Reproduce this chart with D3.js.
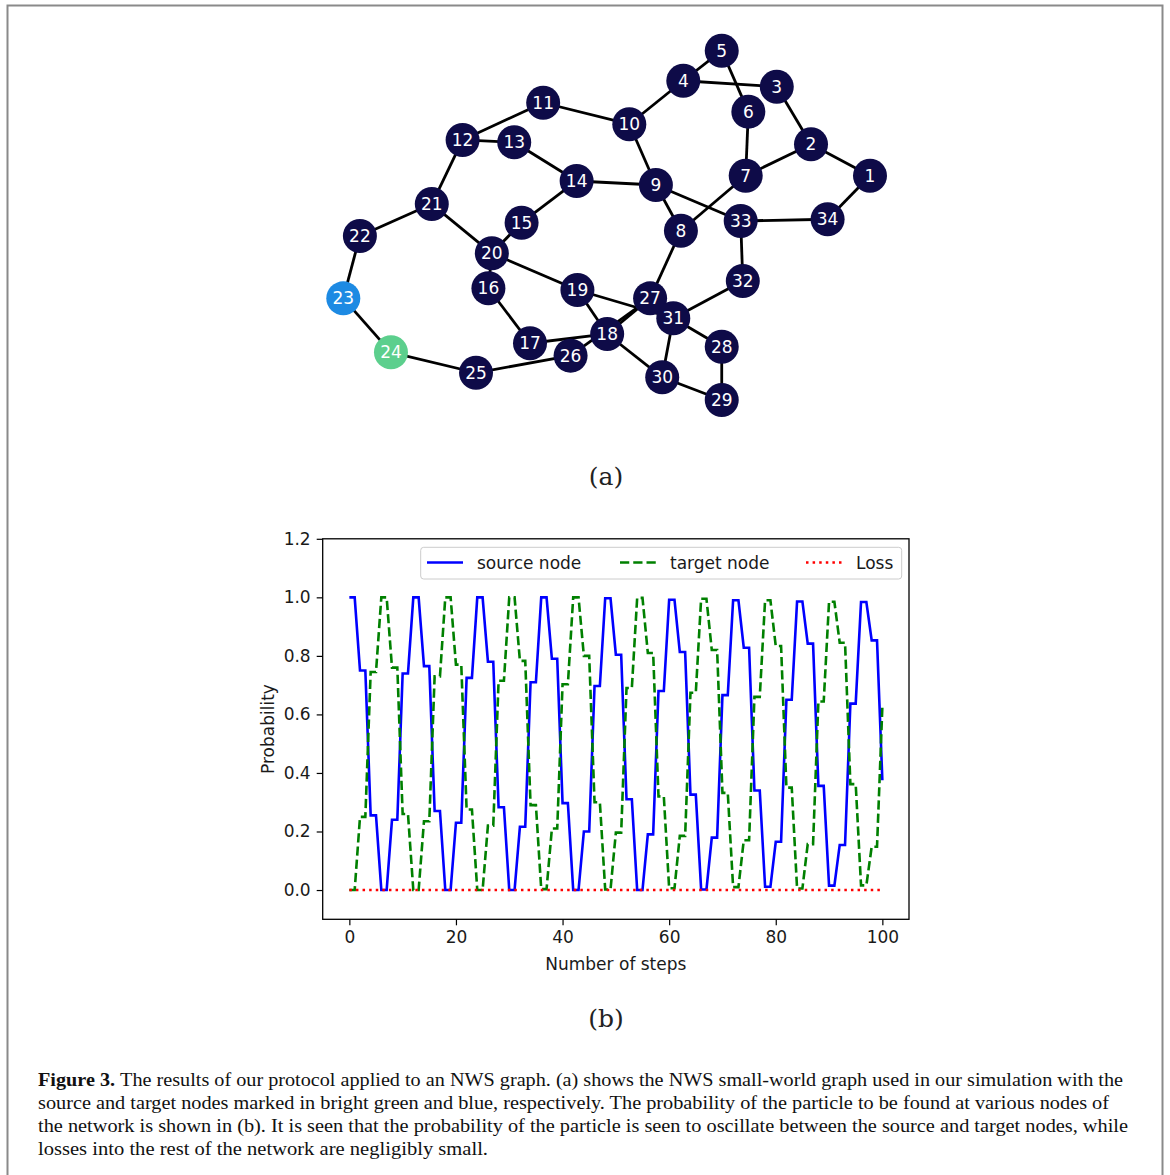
<!DOCTYPE html>
<html>
<head>
<script src="https://d3js.org/d3.v7.min.js"></script>
<style>
  body { margin: 0; background: #fff; }
  svg text { font-family: "DejaVu Sans", sans-serif; }
  .caption { font-family: "Liberation Serif", serif; font-size: 19px; fill: #111; }
  .panel-label { font-family: "DejaVu Serif", serif; font-size: 25px; fill: #222; }
</style>
</head>
<body>
<div id="figure"></div>
<script>
// ---- (a) network: node ids, spring-layout coordinates, edges ----
const nodeIds = d3.range(1, 35);
const nodeLayoutX = [1.0, 0.776, 0.646, 0.291, 0.437, 0.538, 0.528, 0.282, 0.187, 0.086,
  -0.241, -0.547, -0.351, -0.114, -0.323, -0.449, -0.291, 0.002, -0.111, -0.436,
  -0.664, -0.937, -1.0, -0.819, -0.496, -0.137, 0.165, 0.437, 0.437, 0.211,
  0.253, 0.517, 0.509, 0.839];
const nodeLayoutY = [0.284, 0.464, 0.794, 0.828, 1.0, 0.651, 0.284, -0.031, 0.231, 0.579,
  0.702, 0.489, 0.476, 0.254, 0.015, -0.360, -0.675, -0.622, -0.370, -0.160,
  0.122, -0.061, -0.418, -0.727, -0.844, -0.746, -0.418, -0.695, -1.0, -0.870,
  -0.532, -0.319, 0.025, 0.035];
const edgeList = [[1,2],[1,34],[2,3],[2,7],[3,4],[4,5],[4,10],[5,6],[6,7],[7,8],
  [8,9],[9,10],[9,14],[9,33],[10,11],[11,12],[12,13],[12,21],[13,14],[14,15],
  [15,20],[16,20],[16,17],[17,18],[18,19],[18,27],[26,27],[18,30],[19,31],[20,21],
  [20,19],[21,22],[22,23],[23,24],[24,25],[25,26],[8,27],[27,31],[31,32],[31,28],
  [31,30],[28,29],[29,30],[32,33],[33,34]];
const sourceNode = 24;
const targetNode = 23;

// ---- (b) probabilities vs number of steps ----
const steps = d3.range(0, 101);
const sourceProb = [
  1.0, 1.0, 0.75, 0.75, 0.255, 0.255, 0, 0, 0.24, 0.24, 0.74, 0.74,
  1.0, 1.0, 0.765, 0.765, 0.27, 0.27, 0, 0, 0.23, 0.23, 0.725, 0.725,
  1.0, 1.0, 0.78, 0.78, 0.283, 0.283, 0, 0, 0.216, 0.216, 0.71, 0.71,
  1.0, 1.0, 0.79, 0.79, 0.297, 0.297, 0, 0, 0.2, 0.2, 0.697, 0.697,
  0.997, 0.997, 0.804, 0.804, 0.31, 0.31, 0, 0, 0.19, 0.19, 0.68, 0.68,
  0.992, 0.992, 0.813, 0.813, 0.326, 0.326, 0.002, 0.002, 0.179, 0.179, 0.666, 0.666,
  0.99, 0.99, 0.828, 0.828, 0.34, 0.34, 0.011, 0.011, 0.165, 0.165, 0.65, 0.65,
  0.986, 0.986, 0.842, 0.842, 0.356, 0.356, 0.015, 0.015, 0.154, 0.154, 0.637, 0.637,
  0.984, 0.984, 0.853, 0.853, 0.375];
const targetProb = [
  0, 0, 0.25, 0.25, 0.745, 0.745, 1.0, 1.0, 0.76, 0.76, 0.26, 0.26,
  0, 0, 0.235, 0.235, 0.73, 0.73, 1.0, 1.0, 0.77, 0.77, 0.275, 0.275,
  0, 0, 0.22, 0.22, 0.715, 0.715, 1.0, 1.0, 0.783, 0.783, 0.29, 0.29,
  0.003, 0.003, 0.21, 0.21, 0.703, 0.703, 1.0, 1.0, 0.8, 0.8, 0.3, 0.3,
  0.002, 0.002, 0.196, 0.196, 0.69, 0.69, 0.998, 0.998, 0.81, 0.81, 0.32, 0.32,
  0.006, 0.006, 0.185, 0.185, 0.674, 0.674, 0.995, 0.995, 0.82, 0.82, 0.332, 0.332,
  0.01, 0.01, 0.17, 0.17, 0.66, 0.66, 0.99, 0.99, 0.834, 0.834, 0.35, 0.35,
  0.005, 0.005, 0.157, 0.157, 0.644, 0.644, 0.985, 0.985, 0.845, 0.845, 0.362, 0.362,
  0.016, 0.016, 0.148, 0.148, 0.625];
const lossProb = [
  0,0,0,0,0,0,0,0,0,0,0,0,0,0,0,0,0,0,0,0,0,0,0,0,0,0,0,0,0,0,0,0,0,0,
  0,0,0,0,0,0,0,0,0,0,0,0,0,0,0,0,0,0,0,0,0,0,0,0,0,0,0,0,0,0,0,0,0,0,
  0,0,0,0,0,0,0,0,0,0,0,0,0,0,0,0,0,0,0,0,0,0,0,0,0,0,0,0,0,0,0,0,0];
const seriesNames = ["source node", "target node", "Loss"];
const xTicks = [0, 20, 40, 60, 80, 100];
const yTicks = [0.0, 0.2, 0.4, 0.6, 0.8, 1.0, 1.2];

const captionLines = [
  "The results of our protocol applied to an NWS graph. (a) shows the NWS small-world graph used in our simulation with the",
  "source and target nodes marked in bright green and blue, respectively. The probability of the particle to be found at various nodes of",
  "the network is shown in (b). It is seen that the probability of the particle is seen to oscillate between the source and target nodes, while",
  "losses into the rest of the network are negligibly small."
];

const W = 1170, H = 1175;
const svg = d3.select("#figure").append("svg")
  .attr("width", W).attr("height", H);

// outer frame
svg.append("rect")
  .attr("x", 7.5).attr("y", 5.5).attr("width", 1155).attr("height", 1200)
  .attr("fill", "none").attr("stroke", "#8a8a8a").attr("stroke-width", 2);

// ================= (a) graph =================
const gx = d3.scaleLinear().domain([-1, 1]).range([343.3, 870]);
const gy = d3.scaleLinear().domain([-1, 1]).range([400, 50.7]);
const nodes = nodeIds.map((id, i) => ({id, x: nodeLayoutX[i], y: nodeLayoutY[i]}));
const byId = new Map(nodes.map(d => [d.id, d]));

const graph = svg.append("g");
graph.selectAll("line.edge")
  .data(edgeList)
  .join("line")
  .attr("class", "edge")
  .attr("x1", d => gx(byId.get(d[0]).x))
  .attr("y1", d => gy(byId.get(d[0]).y))
  .attr("x2", d => gx(byId.get(d[1]).x))
  .attr("y2", d => gy(byId.get(d[1]).y))
  .attr("stroke", "#000")
  .attr("stroke-width", 2.8);

const nodeColor = id => id === sourceNode ? "#5ccf8d" : id === targetNode ? "#1d8ae3" : "#0e0b48";
const ng = graph.selectAll("g.node")
  .data(nodes)
  .join("g")
  .attr("class", "node")
  .attr("transform", d => `translate(${gx(d.x)},${gy(d.y)})`);
ng.append("circle").attr("r", 17).attr("fill", d => nodeColor(d.id));
ng.append("text")
  .attr("text-anchor", "middle")
  .attr("dy", "0.36em")
  .attr("fill", "#fff")
  .style("font-size", "17px")
  .text(d => d.id);

svg.append("text").attr("class", "panel-label")
  .attr("x", 606).attr("y", 485).attr("text-anchor", "middle").text("(a)");

// ================= (b) line chart =================
const frame = {left: 322.7, right: 909, top: 538.8, bottom: 919.3};
const x = d3.scaleLinear().domain([-5, 105]).range([frame.left, frame.right]);
const y = d3.scaleLinear().domain([-0.1, 1.2]).range([frame.bottom, frame.top]);

const plot = svg.append("g");

const line = d3.line().x((d, i) => x(steps[i])).y(d => y(d));
const styles = [
  {data: sourceProb, color: "#0000ff", dash: null},
  {data: targetProb, color: "#008000", dash: "9.25,4"},
  {data: lossProb, color: "#ff0000", dash: "2.5,4.1"}
];
styles.forEach(s => {
  plot.append("path")
    .datum(s.data)
    .attr("d", line)
    .attr("fill", "none")
    .attr("stroke", s.color)
    .attr("stroke-width", 2.6)
    .attr("stroke-dasharray", s.dash);
});

// axes
const xAxis = plot.append("g")
  .attr("transform", `translate(0,${frame.bottom})`)
  .call(d3.axisBottom(x).tickValues(xTicks).tickSize(6).tickPadding(6).tickFormat(d3.format("d")));
const yAxis = plot.append("g")
  .attr("transform", `translate(${frame.left},0)`)
  .call(d3.axisLeft(y).tickValues(yTicks).tickSize(6).tickPadding(6).tickFormat(d3.format(".1f")));
[xAxis, yAxis].forEach(a => {
  a.select(".domain").remove();
  a.selectAll(".tick line").attr("stroke", "#000").attr("stroke-width", 1.2);
  a.selectAll(".tick text").attr("fill", "#1a1a1a")
    .style("font-size", "17px").style("font-family", "DejaVu Sans");
});

plot.append("rect")
  .attr("x", frame.left).attr("y", frame.top)
  .attr("width", frame.right - frame.left).attr("height", frame.bottom - frame.top)
  .attr("fill", "none").attr("stroke", "#000").attr("stroke-width", 1.3);

plot.append("text")
  .attr("x", (frame.left + frame.right) / 2).attr("y", 970)
  .attr("text-anchor", "middle").attr("fill", "#1a1a1a")
  .style("font-size", "17px").text("Number of steps");
plot.append("text")
  .attr("transform", `translate(274,${(frame.top + frame.bottom) / 2}) rotate(-90)`)
  .attr("text-anchor", "middle").attr("fill", "#1a1a1a")
  .style("font-size", "17px").text("Probability");

// legend
const legend = plot.append("g");
legend.append("rect")
  .attr("x", 420.7).attr("y", 547.3).attr("width", 481).attr("height", 31.7)
  .attr("rx", 3).attr("fill", "#fff").attr("fill-opacity", 0.8)
  .attr("stroke", "#cccccc").attr("stroke-width", 1);
const legendX = [427, 620, 806];
styles.forEach((s, i) => {
  legend.append("line")
    .attr("x1", legendX[i]).attr("x2", legendX[i] + 36)
    .attr("y1", 562.5).attr("y2", 562.5)
    .attr("stroke", s.color).attr("stroke-width", 2.5)
    .attr("stroke-dasharray", s.dash);
  legend.append("text")
    .attr("x", i === 2 ? 856 : legendX[i] + 50).attr("y", 562.5).attr("dy", "0.36em")
    .attr("fill", "#1a1a1a").style("font-size", "17px")
    .text(seriesNames[i]);
});

svg.append("text").attr("class", "panel-label")
  .attr("x", 606).attr("y", 1027).attr("text-anchor", "middle").text("(b)");

// ================= caption =================
const captionWidths = [1085, 1071, 1090, 450];
captionLines.forEach((t, i) => {
  const txt = svg.append("text").attr("class", "caption")
    .attr("x", 38).attr("y", 1086 + i * 23);
  if (i === 0) {
    txt.append("tspan").style("font-weight", "bold").text("Figure 3. ");
  }
  txt.append("tspan").text(t);
  txt.attr("textLength", captionWidths[i]).attr("lengthAdjust", "spacingAndGlyphs");
});
</script>
</body>
</html>
